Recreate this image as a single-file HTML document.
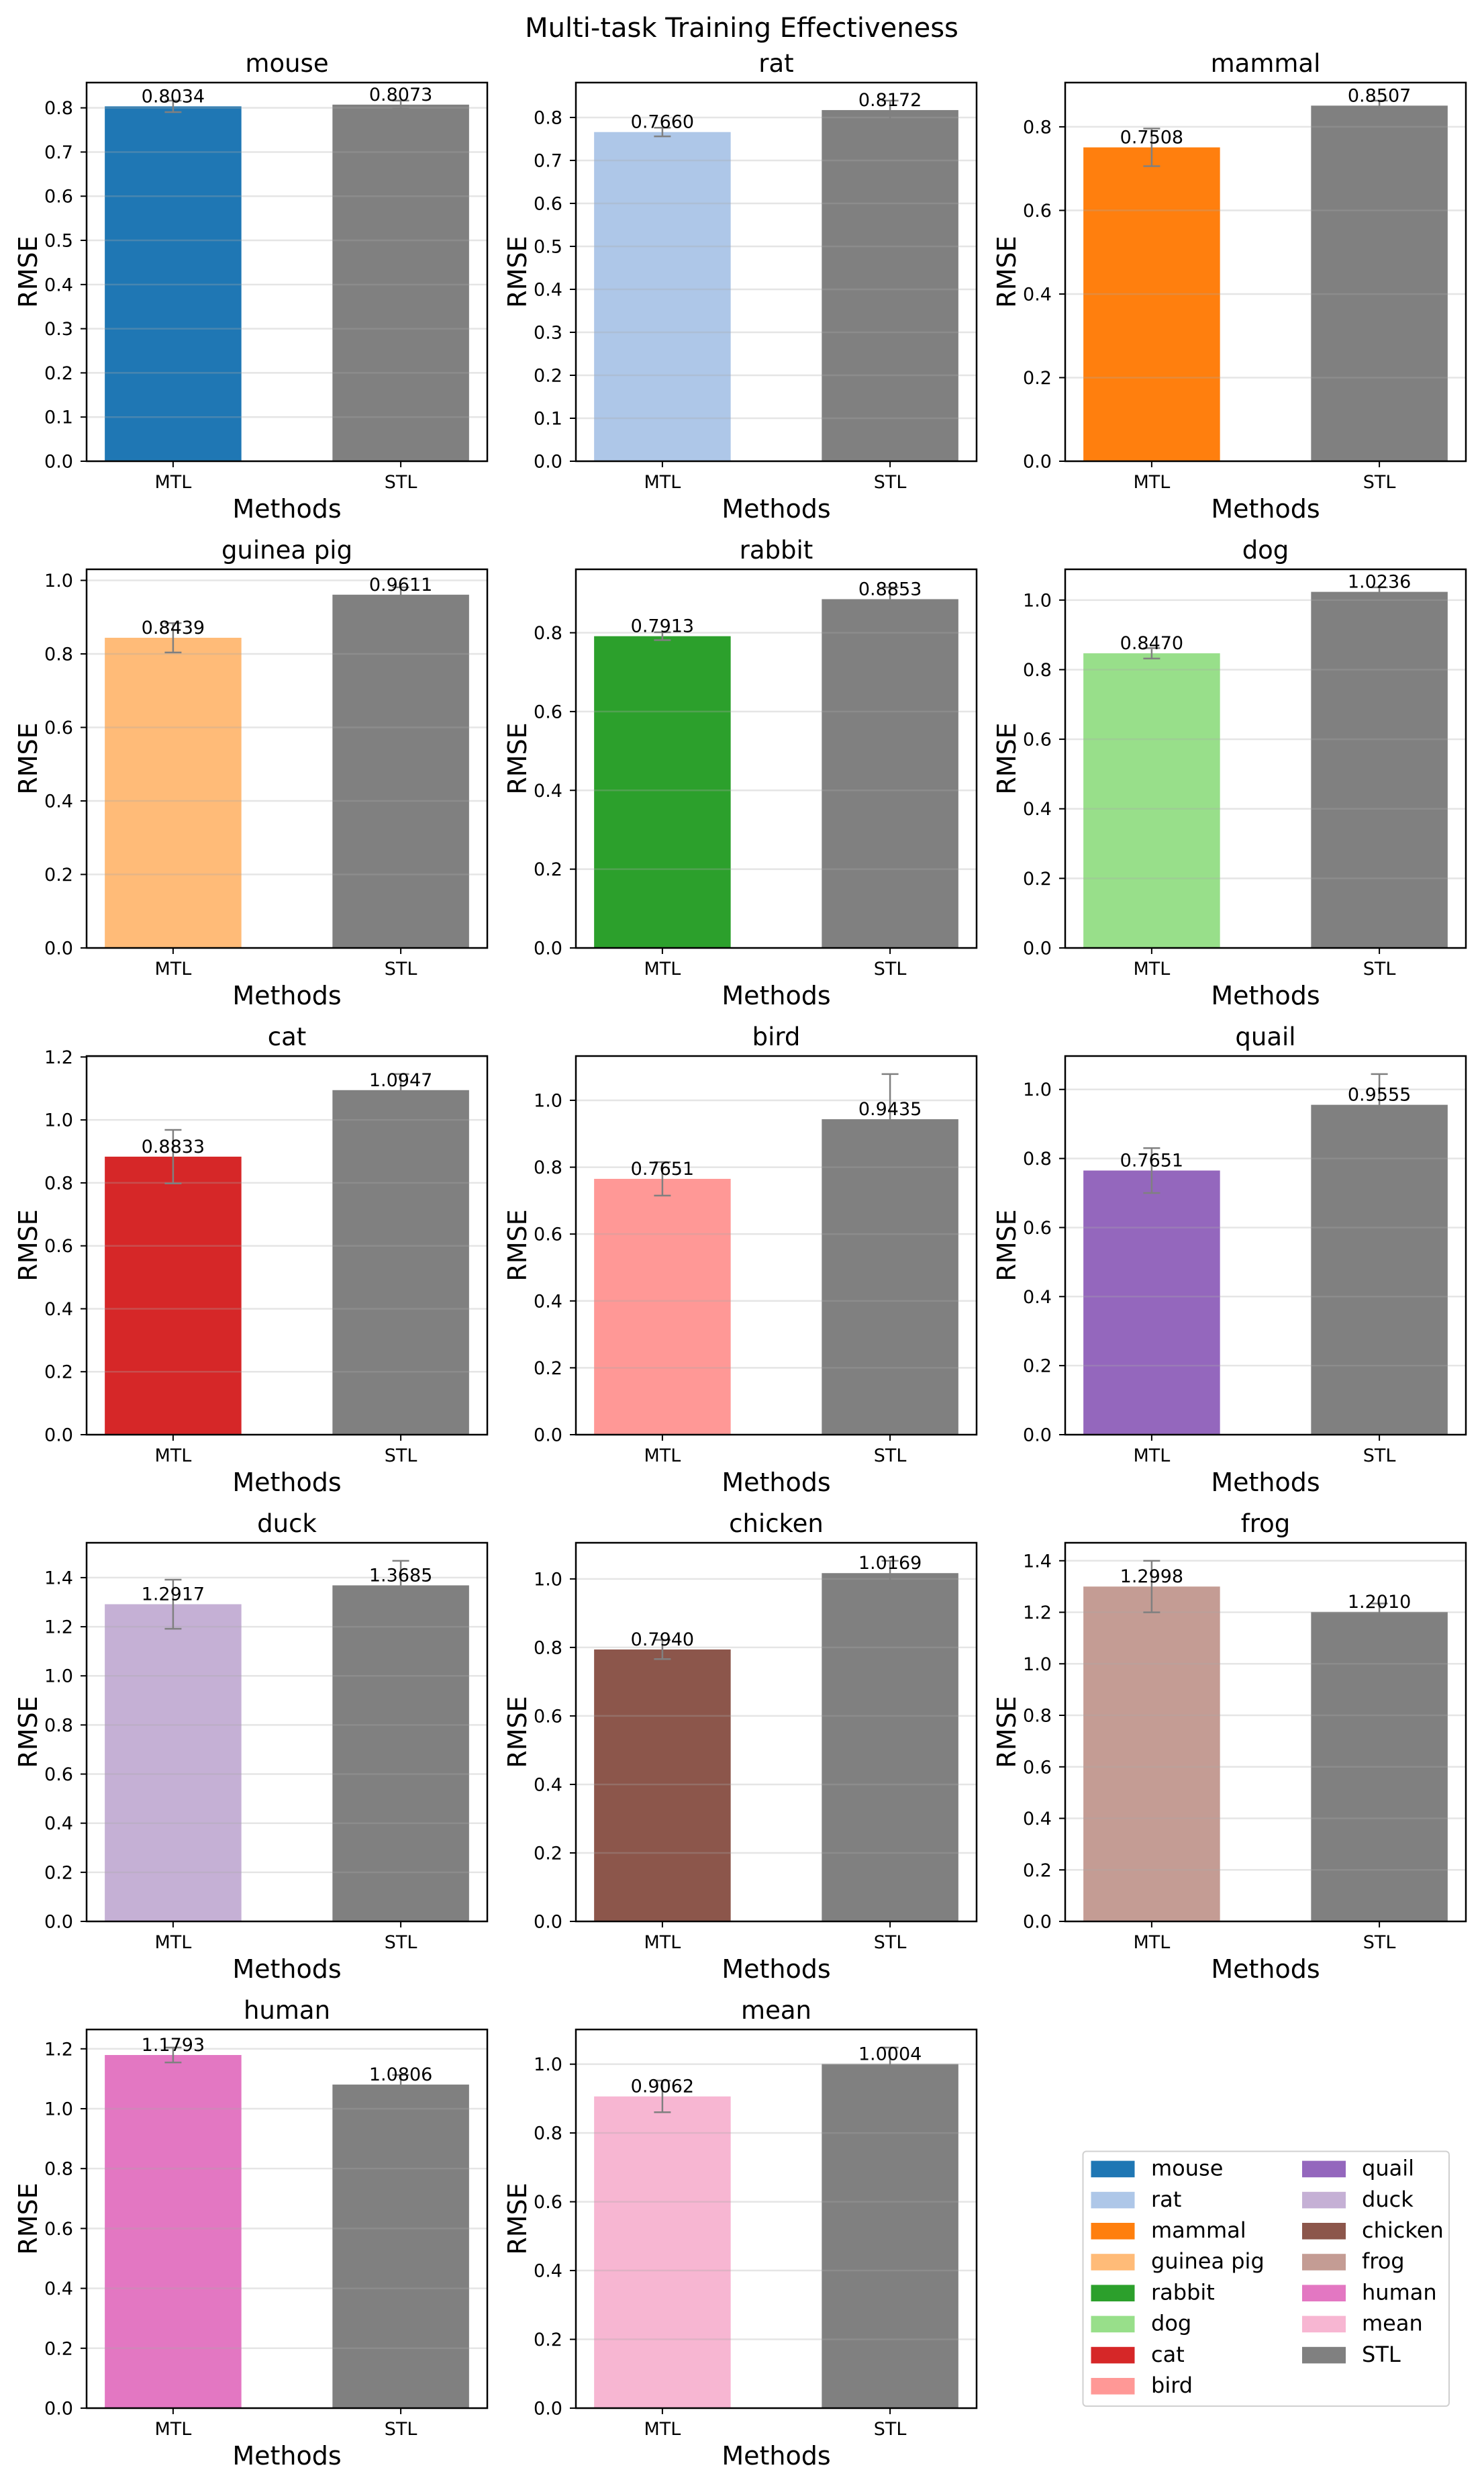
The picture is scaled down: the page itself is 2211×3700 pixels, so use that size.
<!DOCTYPE html>
<html><head><meta charset="utf-8">
<style>
html,body{margin:0;padding:0;background:#fff;}
svg{display:block;font-family:"DejaVu Sans","Liberation Sans",sans-serif;}
</style></head>
<body>
<svg id="fig" width="2211" height="3700" viewBox="0 0 2211 3700" xmlns="http://www.w3.org/2000/svg">
<rect width="2211" height="3700" fill="#fff"/>
<text x="1105" y="55" font-size="40" text-anchor="middle">Multi-task Training Effectiveness</text>
</svg>
<script>
const tasks = ["mouse","rat","mammal","guinea pig","rabbit","dog","cat","bird","quail","duck","chicken","frog","human","mean"];
const mtlValues = [0.8034,0.7660,0.7508,0.8439,0.7913,0.8470,0.8833,0.7651,0.7651,1.2917,0.7940,1.2998,1.1793,0.9062];
const stlValues = [0.8073,0.8172,0.8507,0.9611,0.8853,1.0236,1.0947,0.9435,0.9555,1.3685,1.0169,1.2010,1.0806,1.0004];
const mtlErrors = [0.013,0.010,0.045,0.040,0.010,0.015,0.085,0.050,0.065,0.100,0.028,0.100,0.025,0.046];
const stlErrors = [0.009,0.022,0.012,0.020,0.030,0.013,0.051,0.135,0.089,0.100,0.036,0.033,0.032,0.048];
const methods = ["MTL","STL"];
const colors = ["#1f77b4","#aec7e8","#ff7f0e","#ffbb78","#2ca02c","#98df8a","#d62728","#ff9896","#9467bd","#c5b0d5","#8c564b","#c49c94","#e377c2","#f7b6d2"];
const stlColor = "#808080";

const NS = "http://www.w3.org/2000/svg";
const svg = document.getElementById("fig");
function mk(tag, attrs, parent, text){
  const e = document.createElementNS(NS, tag);
  for (const k in attrs) e.setAttribute(k, attrs[k]);
  if (text !== undefined) e.textContent = text;
  (parent||svg).appendChild(e);
  return e;
}
const W = 597, H = 564;
tasks.forEach((t, i) => {
  const r = Math.floor(i/3), c = i%3;
  const L = 129 + c*729, T = 123 + r*725, B = T + H;
  const vals = [mtlValues[i], stlValues[i]];
  const errs = [mtlErrors[i], stlErrors[i]];
  const ymax = Math.max(vals[0]+errs[0], vals[1]+errs[1]) * 1.05;
  const ys = v => B - v/ymax*H;
  const xs = x => L + (x+0.38)/1.76*W;
  const g = mk("g", {});
  
  
  const title = mk("text", {x: L+W/2, y: T-16, "font-size": 37, "text-anchor": "middle"}, g, t);
  
  
  vals.forEach((v, j) => {
    const bw = 0.6/1.76*W;
    const b = mk("rect", {x: xs(j)-bw/2, y: ys(v), width: bw, height: B-ys(v), fill: j===0?colors[i]:stlColor}, g);
    
    
  });
  const step = ymax < 0.9 ? 0.1 : 0.2;
  for (let k = 0; k*step <= ymax + 1e-9; k++) {
    const v = k*step, y = ys(v);
    const gl = mk("line", {x1: L, x2: L+W, y1: y, y2: y, stroke: "rgba(170,170,170,0.3)", "stroke-width": 2.5}, g);
    
    
    mk("line", {x1: L-9, x2: L, y1: y, y2: y, stroke: "#000", "stroke-width": 2}, g);
    const tl = mk("text", {x: L-20, y: y+9.5, "font-size": 27, "text-anchor": "end"}, g, v.toFixed(1));
    
    
  }
  vals.forEach((v, j) => {
    const x = xs(j), e = errs[j];
    mk("line", {x1: x, x2: x, y1: ys(v-e), y2: ys(v+e), stroke: "#808080", "stroke-width": 2.5}, g);
    mk("line", {x1: x-12.5, x2: x+12.5, y1: ys(v-e), y2: ys(v-e), stroke: "#808080", "stroke-width": 2.5}, g);
    mk("line", {x1: x-12.5, x2: x+12.5, y1: ys(v+e), y2: ys(v+e), stroke: "#808080", "stroke-width": 2.5}, g);
    const vl = mk("text", {x: x, y: ys(v)-6, "font-size": 27, "text-anchor": "middle"}, g, v.toFixed(4));
    
    
    mk("line", {x1: x, x2: x, y1: B, y2: B+9, stroke: "#000", "stroke-width": 2}, g);
    const xl = mk("text", {x: x, y: B+40, "font-size": 27, "text-anchor": "middle"}, g, methods[j]);
    
    
  });
  const fr = mk("rect", {x: L, y: T, width: W, height: H, fill: "none", stroke: "#000", "stroke-width": 2.5}, g);
  
  
  const xa = mk("text", {x: L+W/2, y: B+84, "font-size": 38, "text-anchor": "middle"}, g, "Methods");
  
  
  const ya = mk("text", {x: L-87, y: T+H/2, "font-size": 38, "text-anchor": "middle", "dominant-baseline": "central", transform: `rotate(-90 ${L-87} ${T+H/2})`}, g, "RMSE");
  
  
});
const leg = mk("g", {});


mk("rect", {x: 1613.5, y: 3204.5, width: 545.5, height: 379.5, rx: 5, fill: "#fff", stroke: "#d0d0d0", "stroke-width": 2}, leg);
const legLabels = tasks.concat(["STL"]);
const legColors = colors.concat([stlColor]);
legLabels.forEach((lab, k) => {
  const col = k < 8 ? 0 : 1, row = k < 8 ? k : k-8;
  const px = col===0 ? 1625.5 : 1940, tx = col===0 ? 1715 : 2029;
  const y = 3218.6 + row*46.2;
  const ent = mk("g", {}, leg);
  
  
  mk("rect", {x: px, y: y, width: 65, height: 24.6, fill: legColors[k]}, ent);
  mk("text", {x: tx, y: y+22, "font-size": 32}, ent, lab);
});
</script>
</body></html>
